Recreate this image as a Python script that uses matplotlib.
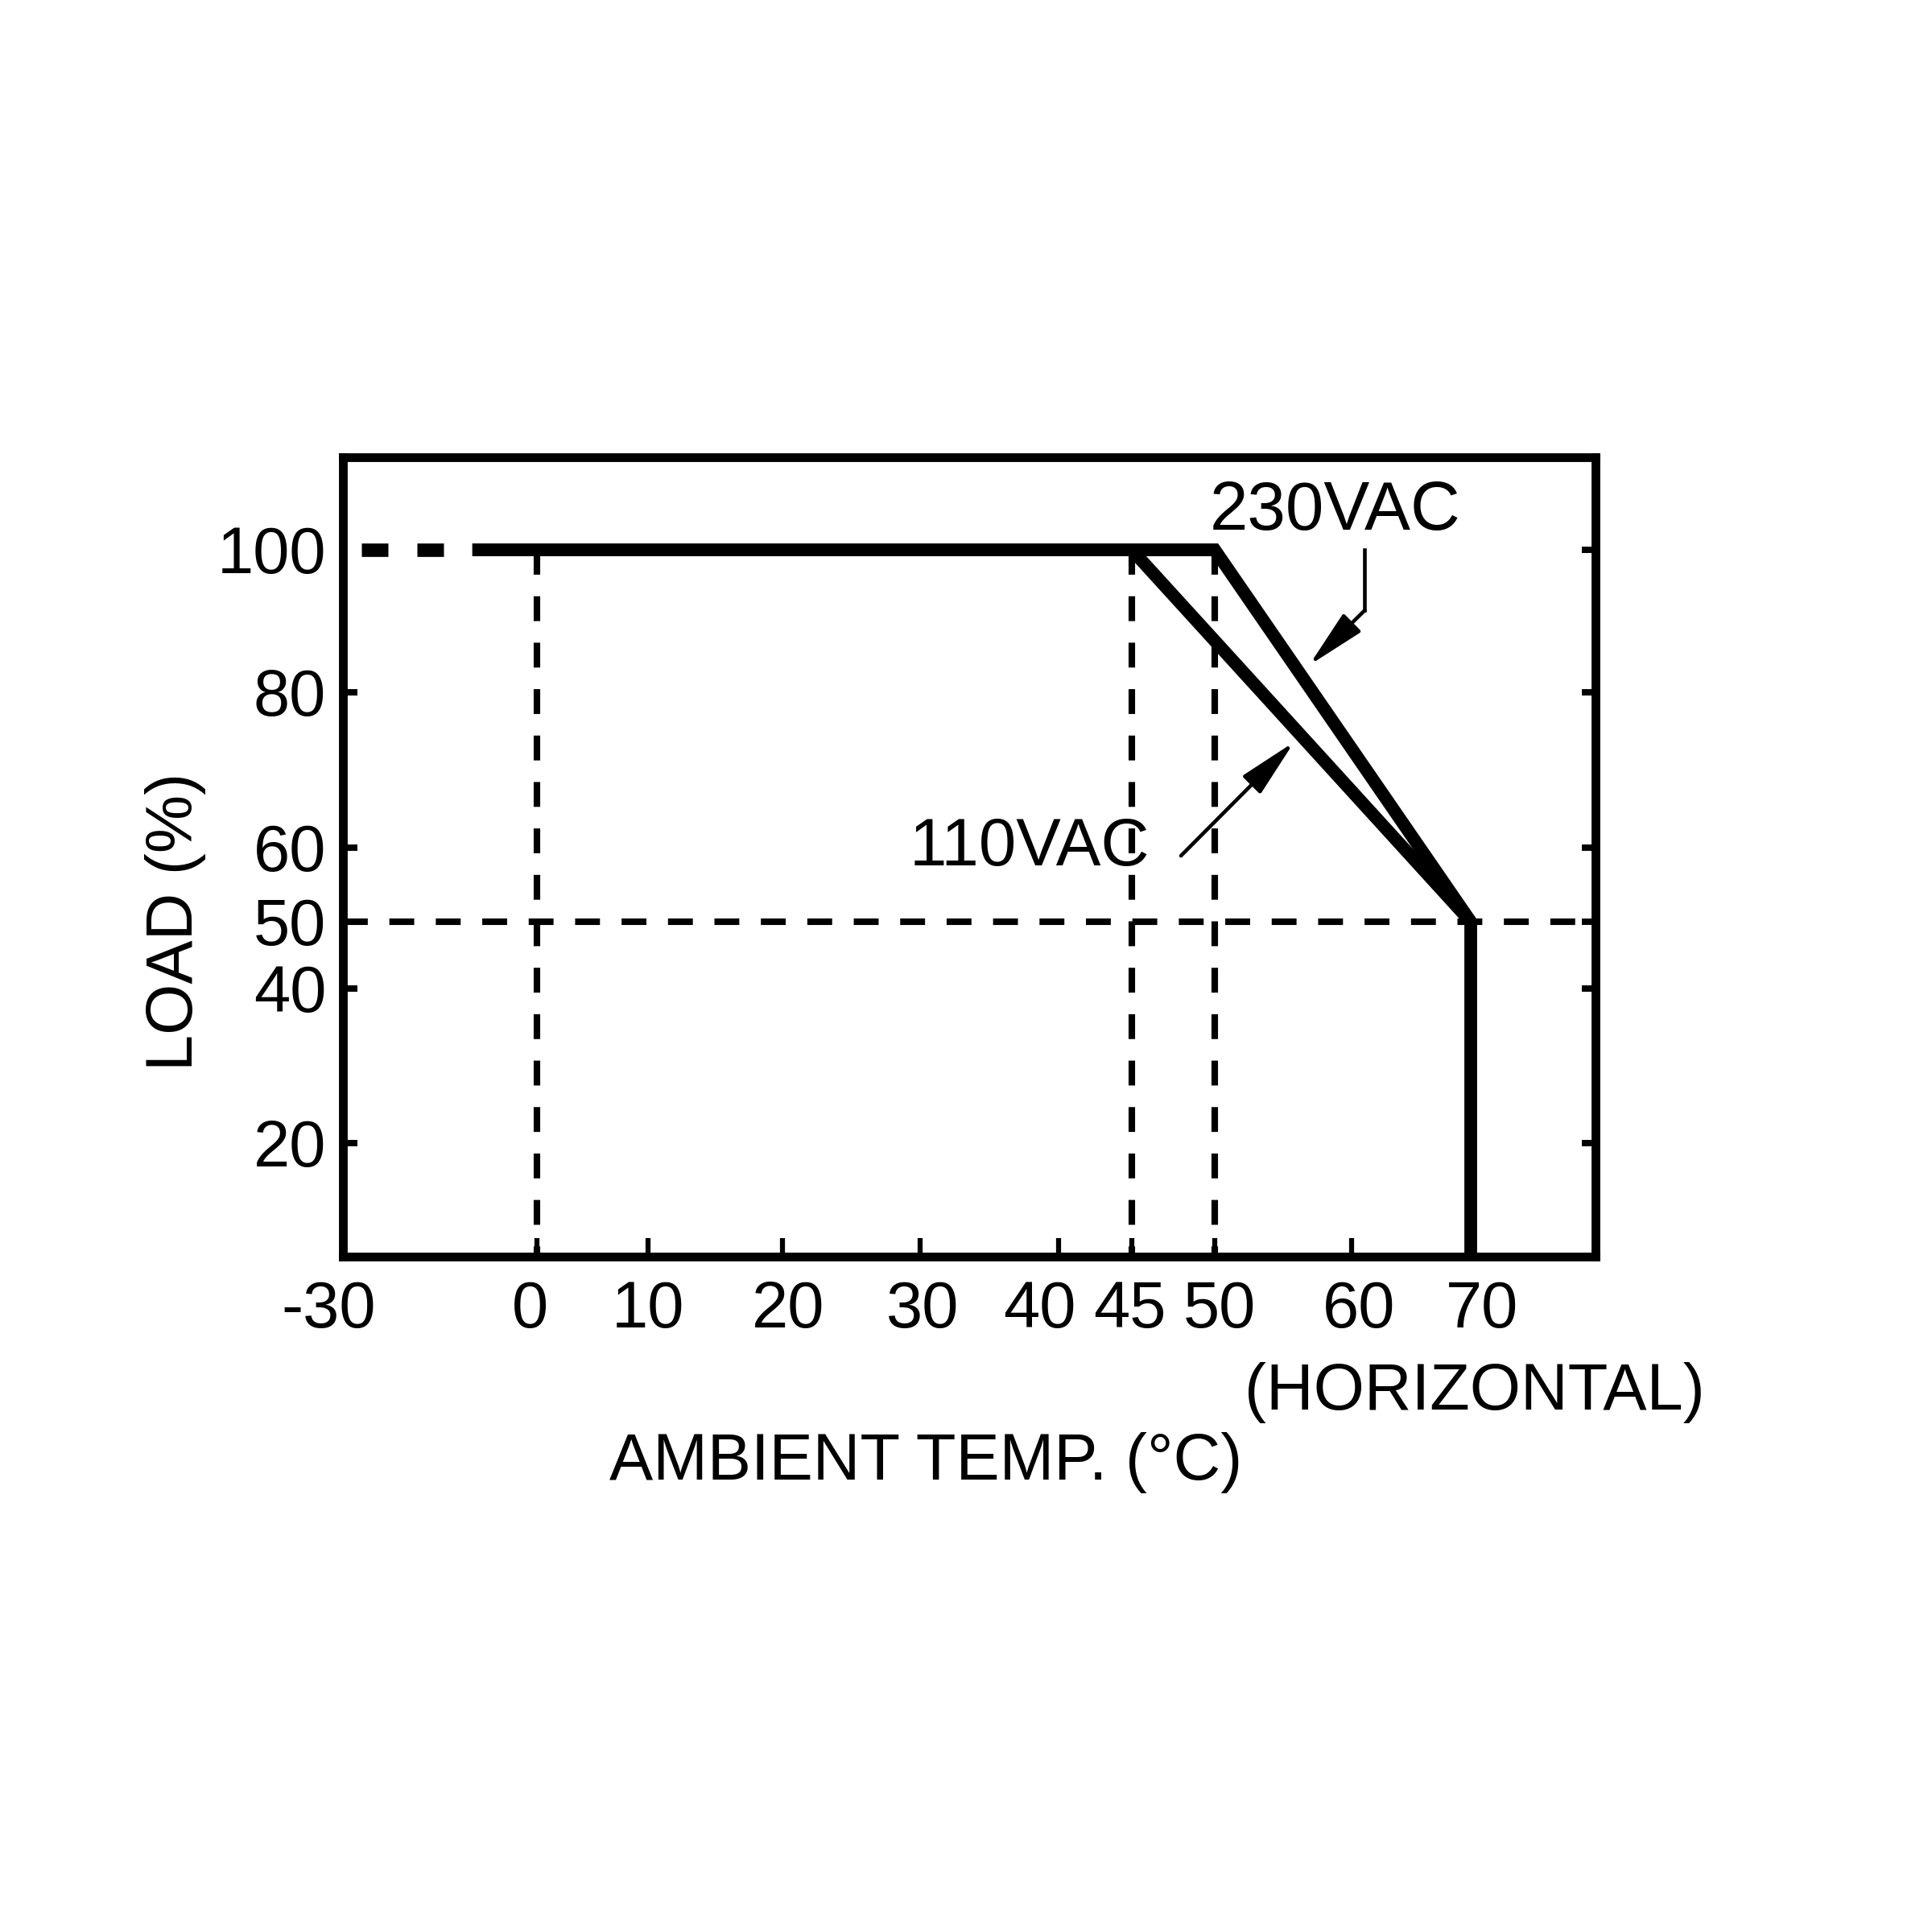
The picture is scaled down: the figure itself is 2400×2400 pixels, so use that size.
import numpy as np
import matplotlib
matplotlib.use("Agg")
import matplotlib.pyplot as plt
from matplotlib.ticker import FixedLocator, FixedFormatter, NullLocator
from matplotlib.transforms import ScaledTranslation

plt.rcParams['font.family'] = ['Liberation Sans', 'DejaVu Sans']

# derating curve (ambient temp in degC, load in %)
temp_ticks = [-30, 0, 10, 20, 30, 40, 45, 50, 60, 70]
temp_labels = ['-30', '0', '10', '20', '30', '40', '45', '50', '60', '70']
load_ticks = [100, 80, 60, 50, 40, 20]
load_labels = ['100', '80', '60', '50', '40', '20']

t_230 = [-10, 50, 70, 70]
l_230 = [100, 100, 50, 5]
t_110 = [45, 70]
l_110 = [100, 50]
t_ext = [-30, -10]          # dashed extension of the 100% line
l_ext = [100, 100]
guide_temps = [0, 45, 50]   # dashed verticals
guide_load = 50             # dashed horizontal

# the drawing's axes are not linear -> graduation positions in the original (px)
x_knots = np.array([-30, 0, 10, 20, 30, 40, 45, 50, 60, 70, 80])
x_pix = np.array([426, 667, 805, 972, 1143, 1315, 1406, 1509, 1679, 1827, 1982])
y_knots = np.array([5, 20, 40, 50, 60, 80, 100, 113])
y_pix = -np.array([1561, 1420, 1228, 1145, 1053, 860, 683, 568])
# hand placed tick labels in the original: horizontal nudge in px
label_nudge = [-18, -9, 0, 7, 3, -24, -3, 6, 9, 14]

def fx(v):
    return np.interp(v, x_knots, x_pix)

def fx_inv(p):
    return np.interp(p, x_pix, x_knots)

def fy(v):
    return np.interp(v, y_knots, y_pix)

def fy_inv(p):
    return np.interp(p, y_pix, y_knots)

W = 2400.0
DPI = 300
fig = plt.figure(figsize=(8, 8), dpi=DPI)
ax = fig.add_axes([426 / W, 1 - 1561 / W, (1982 - 426) / W, (1561 - 568) / W])
ax.set_xscale('function', functions=(fx, fx_inv))
ax.set_yscale('function', functions=(fy, fy_inv))
ax.set_xlim(-30, 80)
ax.set_ylim(5, 113)

fs = 19.5
ax.xaxis.set_major_locator(FixedLocator(temp_ticks))
ax.xaxis.set_major_formatter(FixedFormatter(temp_labels))
ax.yaxis.set_major_locator(FixedLocator(load_ticks))
ax.yaxis.set_major_formatter(FixedFormatter(load_labels))
ax.xaxis.set_minor_locator(NullLocator())
ax.yaxis.set_minor_locator(NullLocator())

for s in ax.spines.values():
    s.set_linewidth(2.6)
ax.tick_params(axis='y', direction='in', length=4.2, width=1.9, left=True, right=True,
               labelsize=fs, pad=5)
ax.tick_params(axis='x', direction='in', length=5.5, width=1.5, top=False,
               labelsize=fs, pad=7)
ax.yaxis.get_major_ticks()[0].tick1line.set_visible(False)
for tk, dx in zip(ax.xaxis.get_major_ticks(), label_nudge):
    lab = tk.label1
    lab.set_transform(lab.get_transform() + ScaledTranslation(dx / DPI, 0, fig.dpi_scale_trans))

# guides
gstyle = dict(color='black', lw=1.95, linestyle=(0, (3.8, 3.3)))
ax.plot([-30, 80], [guide_load, guide_load], **gstyle)
for t in guide_temps:
    ax.plot([t, t], [100, 5], **gstyle)

# curves
ax.plot(t_ext, l_ext, color='black', lw=4.0, linestyle=(2.76, (1.98, 2.16)))
ax.plot(t_230, l_230, color='black', lw=3.8, solid_joinstyle='miter',
        solid_capstyle='butt')
ax.plot(t_110, l_110, color='black', lw=3.8, solid_capstyle='butt')

# annotations
arrow = dict(arrowstyle='-|>,head_length=0.75,head_width=0.16',
             mutation_scale=20, lw=1.1, color='black', shrinkA=0, shrinkB=0)
ax.text(58.8, 105.3, '230VAC', fontsize=20.5, ha='center', va='center')
ax.plot([61.1, 61.1], [100, 91.5], color='black', lw=1.1)
ax.annotate('', xy=(56.9, 83.8), xytext=(61.1, 91.5), arrowprops=arrow)
ax.text(37.9, 60, '110VAC', fontsize=20, ha='center', va='center')
ax.annotate('', xy=(55.8, 73.6), xytext=(47.96, 58.9), arrowprops=arrow)

fig.text(1150 / W, 1 - 1817 / W, 'AMBIENT TEMP. (°C)', fontsize=fs,
         ha='center', va='center')
fig.text(1832 / W, 1 - 1730 / W, '(HORIZONTAL)', fontsize=fs,
         ha='center', va='center')
fig.text(218 / W, 1 - 1145 / W, 'LOAD (%)', fontsize=fs, rotation=90,
         ha='center', va='center')

fig.savefig('out.png', dpi=DPI, facecolor='white')
